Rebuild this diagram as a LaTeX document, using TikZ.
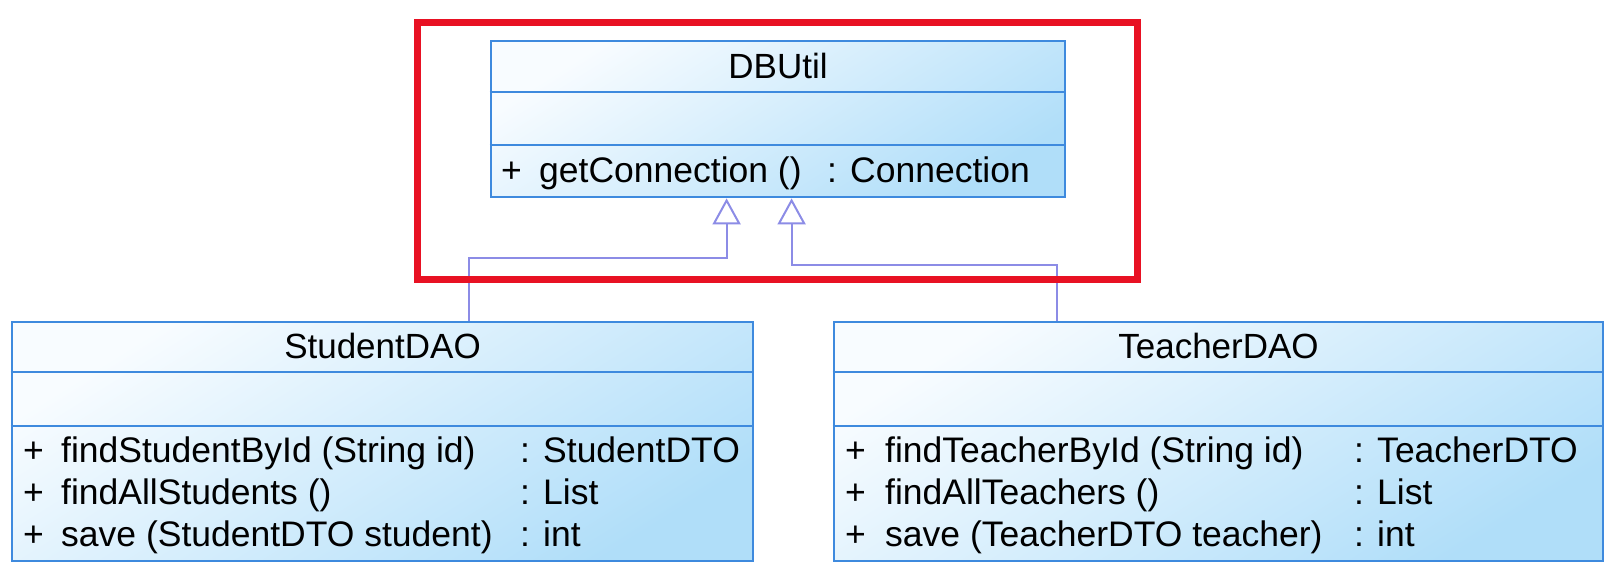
\documentclass[tikz,border=0pt]{standalone}
\usepackage{fontspec}
\setmainfont{Liberation Sans}
\usetikzlibrary{arrows.meta}
\definecolor{boxlight}{RGB}{248,252,255}
\definecolor{boxblue}{RGB}{176,222,249}
\definecolor{boxline}{RGB}{62,138,222}
\definecolor{hl}{RGB}{232,17,35}
\definecolor{conn}{RGB}{140,140,230}
\begin{document}
\begin{tikzpicture}[x=1pt,y=-1pt,
  classbox/.style={draw=boxline, line width=2.8pt, inner sep=0pt, top color=boxlight, bottom color=boxblue, shading angle=32},
  divider/.style={draw=boxline, line width=2.8pt},
  txt/.style={inner sep=0pt, anchor=base west, font=\fontsize{35.5}{42}\selectfont},
  ttl/.style={inner sep=0pt, anchor=base, font=\fontsize{35}{42}\selectfont},
  gen/.style={draw=conn, line width=2pt, -{Triangle[open, length=26pt, width=28pt, fill=white]}},
  highlight/.style={draw=hl, line width=7pt, inner sep=0pt}
]
\useasboundingbox (0,0) rectangle (1618,578);

% class boxes
\node[classbox, minimum width=574pt, minimum height=156pt] (dbutil) at (778,119) {};
\node[classbox, minimum width=741pt, minimum height=239pt] (student) at (382.5,441.5) {};
\node[classbox, minimum width=769pt, minimum height=239pt] (teacher) at (1218.5,441.5) {};

% compartments
\draw[divider] (dbutil.west |- 0,92) -- (dbutil.east |- 0,92);
\draw[divider] (dbutil.west |- 0,145) -- (dbutil.east |- 0,145);
\draw[divider] (student.west |- 0,372) -- (student.east |- 0,372);
\draw[divider] (student.west |- 0,426) -- (student.east |- 0,426);
\draw[divider] (teacher.west |- 0,372) -- (teacher.east |- 0,372);
\draw[divider] (teacher.west |- 0,426) -- (teacher.east |- 0,426);

% DBUtil texts
\node[ttl] (dbt) at (778,78) {DBUtil};
\node[txt] (dbp) at (501,182) {+};
\node[txt] (dbm) at (539,182) {getConnection ()};
\node[txt] (dbr) at (827,182) {: Connection};

% StudentDAO texts
\node[ttl] (stt) at (382.5,358) {StudentDAO};
\node[txt] (sp1) at (23,462) {+};
\node[txt] (sm1) at (61,462) {findStudentById (String id)};
\node[txt] (sr1) at (520,462) {: StudentDTO};
\node[txt] (sp2) at (23,504) {+};
\node[txt] (sm2) at (61,504) {findAllStudents ()};
\node[txt] (sr2) at (520,504) {: List};
\node[txt] (sp3) at (23,546) {+};
\node[txt] (sm3) at (61,546) {save (StudentDTO student)};
\node[txt] (sr3) at (520,546) {: int};

% TeacherDAO texts
\node[ttl] (tct) at (1218.5,358) {TeacherDAO};
\node[txt] (tp1) at (845,462) {+};
\node[txt] (tm1) at (885,462) {findTeacherById (String id)};
\node[txt] (tr1) at (1354,462) {: TeacherDTO};
\node[txt] (tp2) at (845,504) {+};
\node[txt] (tm2) at (885,504) {findAllTeachers ()};
\node[txt] (tr2) at (1354,504) {: List};
\node[txt] (tp3) at (845,546) {+};
\node[txt] (tm3) at (885,546) {save (TeacherDTO teacher)};
\node[txt] (tr3) at (1354,546) {: int};

% generalizations
\draw[gen] ([xshift=458pt]student.north west) -- ++(0,-63) -| ([xshift=237pt]dbutil.south west);
\draw[gen] ([xshift=224pt]teacher.north west) -- ++(0,-56) -| ([xshift=302pt]dbutil.south west);

% highlight frame
\node[highlight, minimum width=720pt, minimum height=256pt] (focus) at (777,151) {};
\end{tikzpicture}
\end{document}
